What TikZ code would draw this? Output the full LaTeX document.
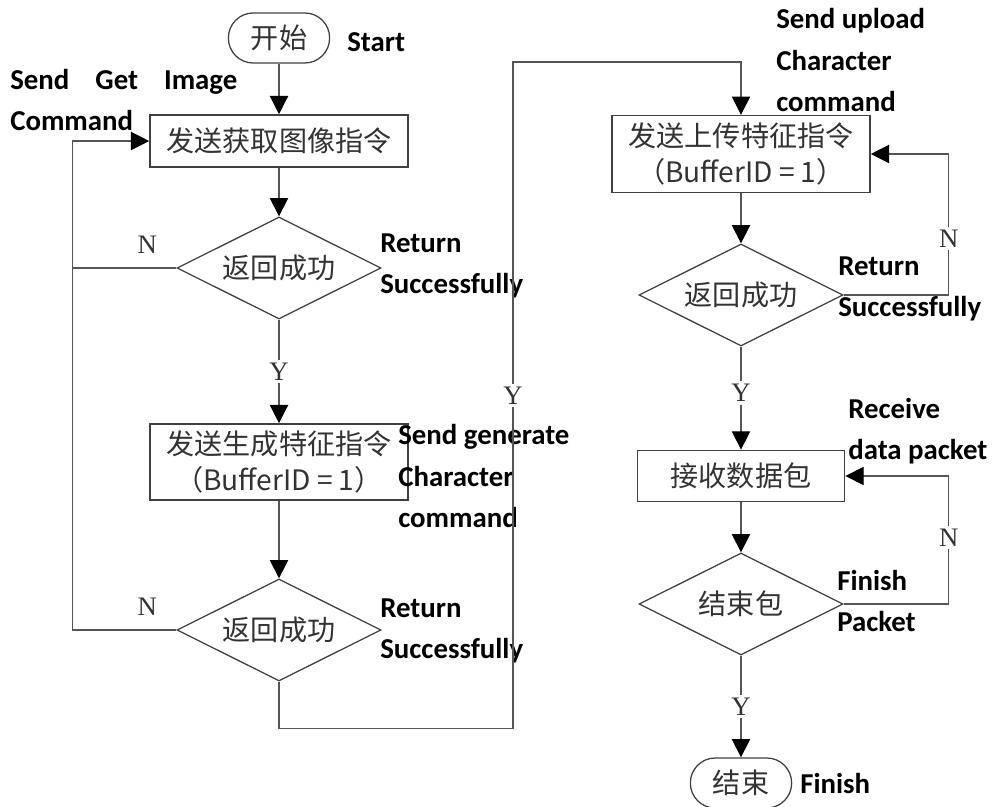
\documentclass[tikz,border=0pt]{standalone}
\usepackage{fontspec}
\setmainfont{Carlito}
\newfontfamily\cjkfont{Noto Sans CJK SC}
\newfontfamily\ynfont{Liberation Serif}
\usetikzlibrary{shapes.geometric,arrows.meta}
\definecolor{linegray}{HTML}{555555}
\definecolor{cjkgray}{HTML}{333333}

\begin{document}
\begin{tikzpicture}[x=0.025cm,y=-0.025cm,
		every node/.style={inner sep=0pt},
		flow/.style={draw=linegray,line width=0.9pt,-{Triangle[width=13pt,length=13pt,color=black]}},
		link/.style={draw=linegray,line width=0.9pt},
		term/.style={draw=black!75,line width=0.9pt,rounded corners=0.62cm,minimum width=2.53cm,minimum height=1.25cm,font=\cjkfont\fontsize{20}{24}\selectfont,text=cjkgray},
		proc/.style={draw=black!75,line width=1.1pt,minimum width=6.45cm,minimum height=1.3cm,align=center,font=\cjkfont\fontsize{20}{26}\selectfont,text=cjkgray},
		test/.style={draw=black!75,line width=0.9pt,diamond,aspect=2,minimum width=5.1cm,minimum height=2.55cm,font=\cjkfont\fontsize{20}{24}\selectfont,text=cjkgray},
		note/.style={anchor=west,align=left,font=\bfseries\fontsize{20.5}{29.5}\selectfont},
		yn/.style={fill=white,inner sep=2pt,font=\ynfont\fontsize{19}{22}\selectfont,text=cjkgray}]
		\useasboundingbox (0,0) rectangle (994,807);
		% left column
		\node [term] (start) at (279,38) {开始};
		\node [proc] (getimg) at (279,141) {发送获取图像指令};
		\node [test] (okA) at (279,268) {返回成功};
		\node [proc,minimum height=1.9cm] (genchar) at (279,462) {发送生成特征指令\\（BufferID = 1）};
		\node [test] (okB) at (279,630) {返回成功};
		% right column
		\node [proc,minimum height=1.92cm] (upload) at (741,154) {发送上传特征指令\\（BufferID = 1）};
		\node [test] (okC) at (741,295) {返回成功};
		\node [proc,minimum width=5.18cm,minimum height=1.28cm] (recv) at (741,476) {接收数据包};
		\node [test] (lastpkt) at (741,604) {结束包};
		\node [term] (finish) at (741,783) {结束};
		% english notes
		\node [note] (startnote) at (347,42) {Start};
		\node [note,text width=5.675cm] (getnote) at (10,100) {Send\hfill Get\hfill Image\\Command};
		\node [note] (okAnote) at (380,266) {Return\\Successfully};
		\node [note] (gennote) at (398,476) {Send generate\\Character\\command};
		\node [note] (okBnote) at (380,631) {Return\\Successfully};
		\node [note] (uploadnote) at (776,60) {Send upload\\Character\\command};
		\node [note] (okCnote) at (838,289) {Return\\Successfully};
		\node [note] (recvnote) at (848,431) {Receive\\data packet};
		\node [note] (lastnote) at (837,601) {Finish\\Packet};
		\node [note] (finishnote) at (800,783) {Finish};
		% connectors
		\draw [flow] (start) -- (getimg);
		\draw [flow] (getimg) -- (okA);
		\draw [flow] (okA) -- node [yn] {Y} (genchar);
		\draw [flow] (genchar) -- (okB);
		\draw [link] (okA.west) -- node [pos=0.28,above=10pt,font=\ynfont\fontsize{19}{22}\selectfont,text=cjkgray] {N} ++(-104,0);
		\draw [flow] (okB.west) -- node [pos=0.28,above=10pt,font=\ynfont\fontsize{19}{22}\selectfont,text=cjkgray] {N} ++(-104,0) |- (getimg.west);
		\draw [flow] (okB.south) -- ++(0,47) -| node [yn,pos=0.75] {Y} (513,62) -| (upload.north);
		\draw [flow] (upload) -- (okC);
		\draw [flow] (okC) -- node [yn,pos=0.45] {Y} (recv);
		\draw [flow] (okC.east) -- ++(105,0) |- node [yn,pos=0.2] {N} (upload.east);
		\draw [flow] (recv) -- (lastpkt);
		\draw [flow] (lastpkt.east) -- ++(105,0) |- node [yn,pos=0.26] {N} (recv.east);
		\draw [flow] (lastpkt) -- node [yn] {Y} (finish);
	\end{tikzpicture}
\end{document}
